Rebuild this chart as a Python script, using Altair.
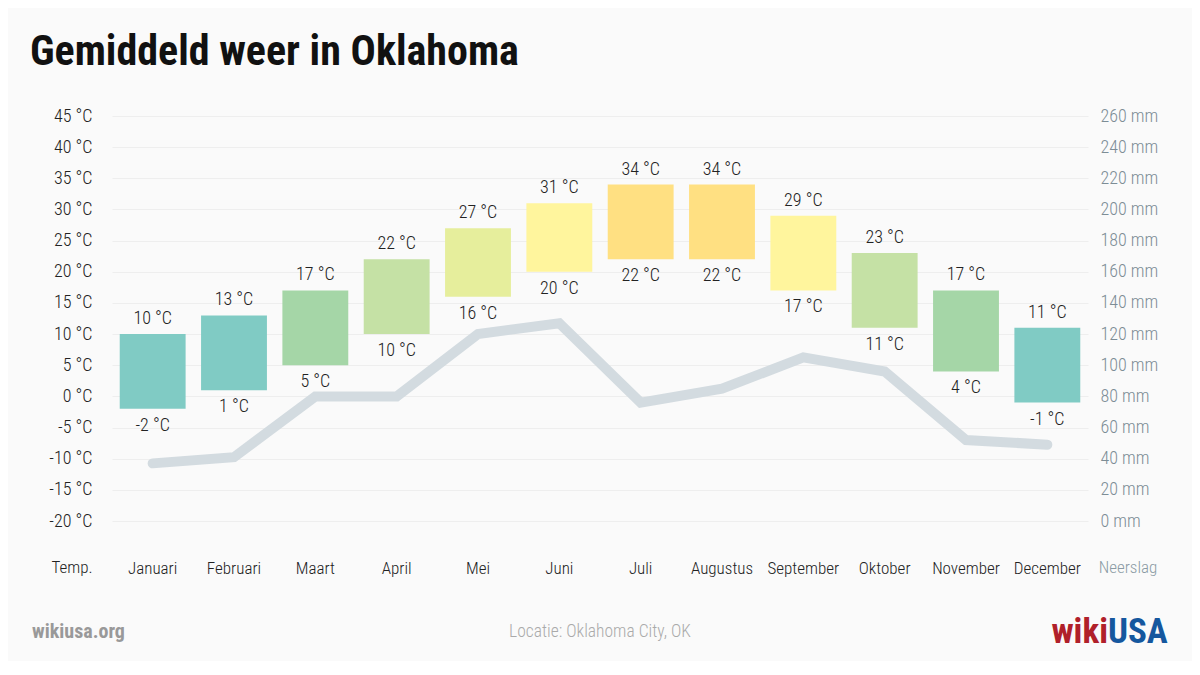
import altair as alt
import pandas as pd

months = ["Januari", "Februari", "Maart", "April", "Mei", "Juni", "Juli",
          "Augustus", "September", "Oktober", "November", "December"]
temp_max = [10, 13, 17, 22, 27, 31, 34, 34, 29, 23, 17, 11]
temp_min = [-2, 1, 5, 10, 16, 20, 22, 22, 17, 11, 4, -1]
precip = [37, 41, 80, 80, 120, 127, 76, 85, 105, 96, 52, 49]
bar_colors = ["#80cbc4", "#80cbc4", "#a5d6a7", "#c5e1a5", "#e6ee9c", "#fff59d",
              "#ffe082", "#ffe082", "#fff59d", "#c5e1a5", "#a5d6a7", "#80cbc4"]
temp_ticks = list(range(-20, 50, 5))
precip_ticks = list(range(0, 280, 20))

FONT = "Roboto Condensed, Open Sans Condensed, Liberation Sans Narrow, DejaVu Sans Condensed, sans-serif"
LW = 300
FS = 18

df = pd.DataFrame({
    "month": months, "tmax": temp_max, "tmin": temp_min,
    "precip": precip, "color": bar_colors,
    "lmax": [f"{v} °C" for v in temp_max],
    "lmin": [f"{v} °C" for v in temp_min],
})

xenc = alt.X("month:N", sort=months,
             scale=alt.Scale(paddingInner=0.19, paddingOuter=0.095),
             axis=alt.Axis(title=None, domain=False, ticks=False, labelPadding=39,
                           labelFontSize=17, labelColor="#222", labelFont=FONT,
                           labelFontWeight=LW, labelAngle=0, labelOverlap=False))

tscale = alt.Scale(domain=[-20, 45], nice=False, zero=False)
pscale = alt.Scale(domain=[0, 260], nice=False)

taxis = alt.Axis(title=None, values=temp_ticks, labelExpr="datum.value + ' °C'",
                 domain=False, ticks=False, grid=True, gridColor="#eeeeee",
                 labelPadding=20, labelFontSize=FS, labelColor="#222",
                 labelFont=FONT, labelFontWeight=LW, labelOverlap=False)

line = alt.Chart(df).mark_line(color="#d3dbe0", strokeWidth=10, strokeCap="round").encode(
    x=xenc,
    y=alt.Y("precip:Q", scale=pscale,
            axis=alt.Axis(title=None, orient="right", values=precip_ticks,
                          labelExpr="datum.value + ' mm'", domain=False, ticks=False,
                          grid=False, labelPadding=12, labelFontSize=FS,
                          labelColor="#7d8d96", labelFont=FONT, labelFontWeight=LW,
                          labelAlign="left", labelOverlap=False)),
)

bars = alt.Chart(df).mark_bar().encode(
    x=xenc,
    y=alt.Y("tmax:Q", scale=tscale, axis=taxis),
    y2="tmin:Q",
    color=alt.Color("color:N", scale=None),
)

top_lbl = alt.Chart(df).mark_text(dy=-15, fontSize=FS, font=FONT, fontWeight=LW,
                                  color="#222").encode(
    x=xenc, y=alt.Y("tmax:Q", scale=tscale, axis=taxis), text="lmax:N")
bot_lbl = alt.Chart(df).mark_text(dy=17, fontSize=FS, font=FONT, fontWeight=LW,
                                  color="#222").encode(
    x=xenc, y=alt.Y("tmin:Q", scale=tscale, axis=taxis), text="lmin:N")

one = pd.DataFrame({"a": [0]})

def txt(text, x, y, size, color, weight="normal", align="center"):
    return alt.Chart(one).mark_text(text=text, fontSize=size, font=FONT, color=color,
                                    fontWeight=weight, align=align, baseline="middle").encode(
        x=alt.value(x), y=alt.value(y))

title = txt("Gemiddeld weer in Oklahoma", -82, -64, 42, "#111", "bold", "left")
temp_lbl = txt("Temp.", -40, 452, 17, "#222", LW)
neer_lbl = txt("Neerslag", 1016, 452, 17, "#8a9aa4", LW)
site = txt("wikiusa.org", -80, 516, 20, "#999", "bold", "left")
loc = txt("Locatie: Oklahoma City, OK", 488, 516, 17.5, "#aaa", LW)
wiki = txt("wiki", 996, 516, 35, "#b0202a", "bold", "right")
usa = txt("USA", 996, 516, 35, "#15579e", "bold", "left")

temp_layer = alt.layer(bars, top_lbl, bot_lbl)
chart = alt.layer(line, temp_layer, title, temp_lbl, neer_lbl, site, loc, wiki, usa).resolve_scale(
    y="independent"
).properties(
    width=976, height=405,
    padding={"left": 104, "top": 108, "right": 104, "bottom": 140},
    autosize=alt.AutoSizeParams(type="none"),
    background="#fafafa",
).configure_view(stroke=None)

chart.save("out.html", embed_options={"renderer": "svg", "actions": False})
